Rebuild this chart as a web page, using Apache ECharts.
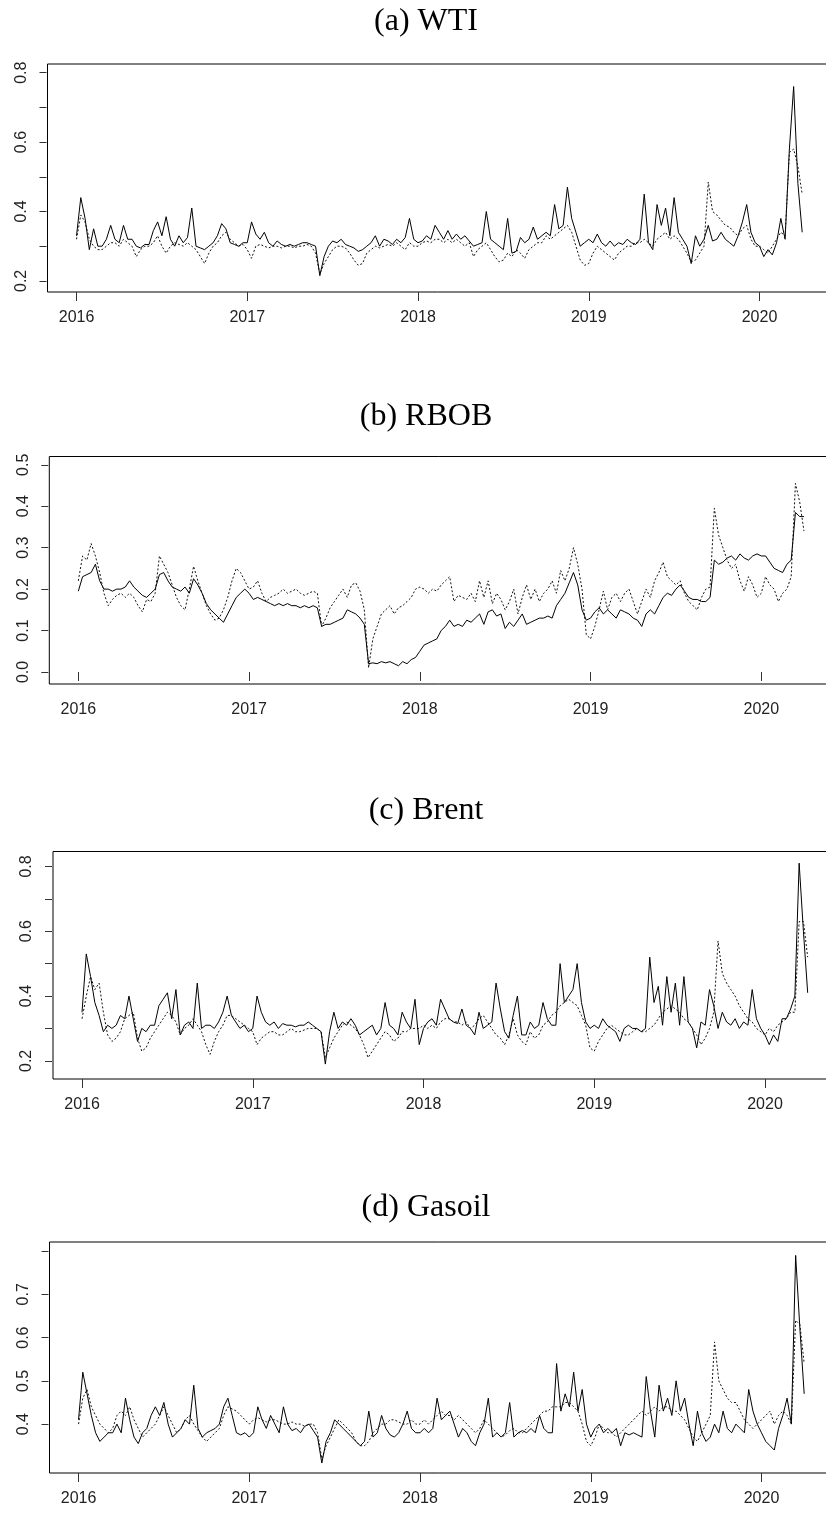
<!DOCTYPE html>
<html>
<head>
<meta charset="utf-8">
<title>Volatility panels</title>
<script src="https://cdn.jsdelivr.net/npm/echarts@6/dist/echarts.min.js"></script>
<style>
  html, body { margin: 0; padding: 0; background: #fff; }
  #chart { width: 826px; height: 1513px; }
</style>
</head>
<body>
<div id="chart"></div>
<script>
// series are sampled every 0.025 year starting at 2016.0
const startYear = 2016
const step = 0.025

const yearTicks = [2016, 2017, 2018, 2019, 2020]

// (a) WTI
const wtiSolid = [
  0.33,0.44,0.38,0.29,0.35,0.30,0.30,0.32,0.36,0.32, 0.31,0.36,0.32,0.32,0.30,0.295,0.305,0.305,0.345,0.37,
  0.33,0.385,0.32,0.30,0.33,0.31,0.325,0.41,0.30,0.295, 0.29,0.30,0.31,0.33,0.365,0.35,0.31,0.305,0.30,0.31,
  0.31,0.37,0.335,0.32,0.34,0.31,0.30,0.315,0.305,0.30, 0.305,0.30,0.305,0.31,0.31,0.305,0.30,0.215,0.27,0.30,
  0.315,0.31,0.32,0.305,0.30,0.295,0.285,0.29,0.30,0.31, 0.33,0.30,0.32,0.315,0.305,0.32,0.31,0.325,0.38,0.32,
  0.31,0.315,0.33,0.32,0.36,0.34,0.32,0.345,0.32,0.335, 0.32,0.33,0.315,0.30,0.305,0.31,0.40,0.32,0.31,0.30,
  0.29,0.38,0.28,0.285,0.325,0.31,0.32,0.355,0.32,0.33, 0.34,0.33,0.42,0.35,0.36,0.47,0.38,0.34,0.30,0.31,
  0.32,0.31,0.335,0.31,0.30,0.315,0.30,0.31,0.305,0.32, 0.31,0.305,0.32,0.45,0.31,0.29,0.42,0.36,0.41,0.33,
  0.44,0.34,0.32,0.30,0.25,0.33,0.30,0.32,0.36,0.315, 0.32,0.34,0.32,0.31,0.30,0.33,0.37,0.42,0.34,0.31,
  0.30,0.27,0.29,0.275,0.31,0.38,0.32,0.58,0.76,0.48,0.34
]
const wtiDotted = [
  0.32,0.39,0.37,0.32,0.30,0.29,0.29,0.30,0.31,0.31, 0.30,0.32,0.31,0.30,0.27,0.29,0.30,0.30,0.31,0.33,
  0.30,0.28,0.30,0.31,0.305,0.30,0.31,0.30,0.29,0.27, 0.25,0.28,0.30,0.31,0.33,0.34,0.32,0.31,0.30,0.305,
  0.29,0.265,0.30,0.305,0.30,0.295,0.30,0.30,0.295,0.30, 0.30,0.295,0.30,0.30,0.305,0.30,0.28,0.22,0.25,0.27,
  0.29,0.30,0.30,0.295,0.28,0.26,0.245,0.25,0.28,0.29, 0.30,0.295,0.30,0.305,0.30,0.31,0.30,0.29,0.31,0.30,
  0.30,0.31,0.315,0.31,0.32,0.32,0.31,0.32,0.31,0.32, 0.31,0.30,0.31,0.27,0.29,0.30,0.31,0.29,0.27,0.255,
  0.26,0.28,0.27,0.29,0.28,0.265,0.29,0.30,0.31,0.31, 0.33,0.32,0.33,0.34,0.35,0.36,0.34,0.30,0.26,0.245,
  0.25,0.28,0.30,0.29,0.28,0.27,0.26,0.28,0.29,0.30, 0.30,0.31,0.31,0.32,0.31,0.30,0.32,0.33,0.34,0.32,
  0.33,0.32,0.30,0.28,0.255,0.26,0.28,0.30,0.485,0.40, 0.39,0.375,0.36,0.355,0.34,0.33,0.35,0.36,0.32,0.30,
  0.30,0.29,0.28,0.30,0.32,0.34,0.33,0.57,0.58,0.53,0.45
]

// (b) RBOB
const rbobSolid = [
  0.195,0.23,0.235,0.24,0.26,0.22,0.20,0.20,0.195,0.20, 0.20,0.205,0.22,0.205,0.195,0.185,0.18,0.19,0.20,0.235,
  0.24,0.22,0.205,0.20,0.195,0.205,0.19,0.225,0.21,0.19, 0.165,0.15,0.14,0.13,0.12,0.14,0.16,0.18,0.19,0.20,
  0.19,0.175,0.18,0.175,0.17,0.165,0.16,0.165,0.16,0.165, 0.16,0.16,0.155,0.16,0.155,0.16,0.155,0.11,0.115,0.115,
  0.12,0.125,0.13,0.15,0.145,0.14,0.13,0.115,0.02,0.022, 0.02,0.025,0.022,0.025,0.02,0.015,0.025,0.02,0.03,0.035,
  0.05,0.065,0.07,0.075,0.08,0.10,0.11,0.125,0.11,0.115, 0.11,0.125,0.12,0.13,0.14,0.115,0.145,0.15,0.135,0.14,
  0.105,0.12,0.11,0.125,0.14,0.115,0.12,0.125,0.13,0.13, 0.135,0.13,0.16,0.175,0.19,0.215,0.24,0.21,0.15,0.125,
  0.13,0.145,0.155,0.14,0.15,0.14,0.13,0.15,0.145,0.14, 0.13,0.125,0.11,0.14,0.15,0.14,0.16,0.18,0.19,0.185,
  0.20,0.21,0.195,0.18,0.175,0.175,0.17,0.17,0.18,0.27, 0.26,0.265,0.275,0.28,0.27,0.285,0.275,0.27,0.28,0.285,
  0.28,0.28,0.265,0.25,0.245,0.24,0.26,0.27,0.385,0.375,0.375
]
const rbobDotted = [
  0.22,0.28,0.27,0.31,0.28,0.24,0.19,0.16,0.175,0.185, 0.19,0.18,0.19,0.18,0.16,0.145,0.175,0.17,0.19,0.28,
  0.26,0.24,0.21,0.18,0.16,0.15,0.20,0.255,0.22,0.19, 0.16,0.14,0.125,0.13,0.15,0.18,0.22,0.25,0.24,0.22,
  0.20,0.205,0.22,0.19,0.17,0.18,0.185,0.19,0.20,0.19, 0.195,0.20,0.19,0.185,0.19,0.195,0.19,0.11,0.13,0.155,
  0.17,0.185,0.20,0.18,0.21,0.215,0.195,0.15,0.01,0.08, 0.11,0.14,0.15,0.16,0.14,0.155,0.16,0.17,0.18,0.20,
  0.205,0.20,0.19,0.20,0.195,0.21,0.22,0.23,0.17,0.185, 0.18,0.175,0.19,0.17,0.22,0.18,0.22,0.165,0.19,0.175,
  0.15,0.17,0.20,0.14,0.18,0.21,0.175,0.20,0.17,0.19, 0.20,0.22,0.19,0.245,0.22,0.25,0.30,0.26,0.20,0.09,
  0.08,0.11,0.15,0.195,0.15,0.18,0.19,0.17,0.19,0.20, 0.17,0.14,0.17,0.20,0.18,0.22,0.24,0.265,0.23,0.22,
  0.21,0.22,0.19,0.17,0.16,0.15,0.18,0.20,0.205,0.395, 0.33,0.30,0.27,0.25,0.26,0.22,0.195,0.23,0.21,0.18,
  0.19,0.23,0.21,0.20,0.17,0.19,0.20,0.23,0.455,0.41,0.34
]

// (c) Brent
const brentSolid = [
  0.35,0.53,0.46,0.38,0.34,0.29,0.31,0.30,0.31,0.34, 0.33,0.40,0.33,0.26,0.30,0.29,0.31,0.31,0.37,0.39,
  0.41,0.33,0.42,0.28,0.31,0.32,0.30,0.44,0.30,0.31, 0.31,0.30,0.32,0.35,0.40,0.34,0.32,0.30,0.31,0.29,
  0.30,0.40,0.35,0.32,0.31,0.32,0.30,0.315,0.31,0.31, 0.305,0.31,0.31,0.32,0.31,0.30,0.29,0.19,0.29,0.35,
  0.30,0.32,0.31,0.33,0.31,0.28,0.29,0.30,0.31,0.28, 0.30,0.38,0.31,0.30,0.28,0.35,0.32,0.30,0.39,0.25,
  0.30,0.32,0.33,0.31,0.39,0.36,0.33,0.32,0.315,0.36, 0.31,0.30,0.28,0.35,0.30,0.31,0.32,0.44,0.36,0.29,
  0.27,0.34,0.40,0.28,0.28,0.32,0.30,0.31,0.38,0.33, 0.31,0.31,0.50,0.38,0.40,0.42,0.50,0.38,0.32,0.30,
  0.31,0.30,0.33,0.31,0.30,0.29,0.26,0.30,0.31,0.30, 0.30,0.29,0.30,0.52,0.38,0.43,0.31,0.46,0.35,0.44,
  0.31,0.46,0.32,0.30,0.24,0.32,0.31,0.42,0.37,0.30, 0.35,0.32,0.31,0.33,0.30,0.32,0.31,0.42,0.33,0.30,
  0.28,0.25,0.28,0.26,0.33,0.33,0.36,0.40,0.81,0.60,0.41
]
const brentDotted = [
  0.33,0.40,0.46,0.42,0.44,0.35,0.28,0.26,0.27,0.29, 0.33,0.34,0.35,0.27,0.23,0.24,0.27,0.29,0.31,0.33,
  0.35,0.34,0.32,0.28,0.30,0.31,0.33,0.31,0.29,0.25, 0.22,0.26,0.29,0.31,0.34,0.34,0.33,0.32,0.31,0.30,
  0.29,0.25,0.27,0.28,0.29,0.29,0.28,0.28,0.29,0.30, 0.29,0.29,0.295,0.30,0.30,0.30,0.29,0.21,0.24,0.27,
  0.29,0.31,0.32,0.31,0.30,0.28,0.25,0.21,0.23,0.25, 0.27,0.29,0.28,0.26,0.27,0.29,0.29,0.30,0.30,0.30,
  0.31,0.30,0.31,0.30,0.32,0.33,0.33,0.32,0.32,0.31, 0.32,0.30,0.31,0.33,0.34,0.32,0.30,0.28,0.27,0.25,
  0.28,0.33,0.28,0.26,0.25,0.29,0.27,0.28,0.31,0.32, 0.34,0.35,0.37,0.38,0.39,0.38,0.37,0.34,0.31,0.24,
  0.23,0.26,0.28,0.30,0.31,0.30,0.29,0.28,0.28,0.29, 0.30,0.29,0.29,0.30,0.31,0.33,0.35,0.36,0.37,0.36,
  0.35,0.33,0.32,0.30,0.28,0.25,0.27,0.30,0.35,0.57, 0.47,0.44,0.42,0.40,0.37,0.35,0.33,0.32,0.30,0.29,
  0.28,0.30,0.29,0.31,0.32,0.33,0.35,0.35,0.63,0.63,0.52
]

// (d) Gasoil
const gasoilSolid = [
  0.41,0.52,0.47,0.42,0.38,0.36,0.37,0.38,0.38,0.40, 0.38,0.46,0.41,0.37,0.355,0.38,0.39,0.42,0.44,0.42,
  0.45,0.40,0.37,0.38,0.39,0.41,0.40,0.49,0.39,0.37, 0.38,0.385,0.39,0.40,0.44,0.46,0.42,0.38,0.375,0.38,
  0.37,0.38,0.44,0.41,0.39,0.42,0.40,0.38,0.44,0.40, 0.385,0.39,0.38,0.395,0.40,0.385,0.37,0.31,0.36,0.38,
  0.41,0.40,0.39,0.38,0.37,0.36,0.35,0.36,0.43,0.37, 0.38,0.42,0.39,0.375,0.37,0.38,0.40,0.43,0.39,0.38,
  0.38,0.39,0.38,0.39,0.46,0.41,0.42,0.43,0.40,0.37, 0.39,0.38,0.36,0.35,0.38,0.40,0.46,0.37,0.38,0.37,
  0.38,0.45,0.37,0.38,0.385,0.38,0.39,0.38,0.42,0.39, 0.38,0.38,0.54,0.43,0.47,0.44,0.52,0.43,0.48,0.40,
  0.37,0.39,0.40,0.38,0.39,0.38,0.39,0.35,0.38,0.375, 0.38,0.375,0.37,0.51,0.43,0.37,0.49,0.43,0.46,0.42,
  0.50,0.43,0.46,0.40,0.35,0.43,0.38,0.36,0.37,0.40, 0.38,0.43,0.39,0.38,0.40,0.39,0.38,0.48,0.43,0.40,
  0.38,0.36,0.35,0.34,0.39,0.42,0.46,0.40,0.79,0.62,0.47
]
const gasoilDotted = [
  0.40,0.46,0.48,0.44,0.42,0.40,0.39,0.38,0.39,0.42, 0.43,0.42,0.44,0.41,0.39,0.37,0.38,0.39,0.40,0.42,
  0.44,0.42,0.40,0.38,0.39,0.41,0.42,0.40,0.385,0.37, 0.36,0.37,0.38,0.39,0.42,0.44,0.435,0.43,0.42,0.41,
  0.40,0.41,0.415,0.41,0.405,0.41,0.41,0.405,0.40,0.40, 0.405,0.40,0.40,0.395,0.40,0.40,0.38,0.32,0.35,0.37,
  0.39,0.41,0.40,0.39,0.38,0.36,0.35,0.35,0.36,0.38, 0.39,0.40,0.40,0.41,0.41,0.405,0.40,0.40,0.41,0.40,
  0.40,0.41,0.40,0.41,0.42,0.43,0.42,0.42,0.41,0.42, 0.41,0.40,0.39,0.38,0.39,0.41,0.40,0.39,0.38,0.37,
  0.375,0.385,0.39,0.38,0.38,0.39,0.40,0.41,0.42,0.43, 0.43,0.44,0.44,0.44,0.45,0.45,0.44,0.43,0.40,0.36,
  0.35,0.37,0.40,0.39,0.38,0.38,0.37,0.38,0.39,0.40, 0.41,0.42,0.43,0.42,0.43,0.44,0.43,0.44,0.44,0.43,
  0.43,0.42,0.41,0.39,0.37,0.36,0.38,0.40,0.42,0.59, 0.50,0.48,0.46,0.45,0.45,0.43,0.41,0.40,0.39,0.40,
  0.41,0.42,0.43,0.40,0.42,0.43,0.42,0.40,0.64,0.63,0.54
]

// y ticks / labels per panel
const wtiTicks = [0.2, 0.3, 0.4, 0.5, 0.6, 0.7, 0.8]
const wtiLabels = [0.2, 0.4, 0.6, 0.8]
const rbobTicks = [0.0, 0.1, 0.2, 0.3, 0.4, 0.5]
const rbobLabels = [0.0, 0.1, 0.2, 0.3, 0.4, 0.5]
const brentTicks = [0.2, 0.3, 0.4, 0.5, 0.6, 0.7, 0.8]
const brentLabels = [0.2, 0.4, 0.6, 0.8]
const gasoilTicks = [0.4, 0.5, 0.6, 0.7, 0.8]
const gasoilLabels = [0.4, 0.5, 0.6, 0.7]

const panels = [
  { title: '(a) WTI', solid: wtiSolid, dotted: wtiDotted, ticks: wtiTicks, labels: wtiLabels,
    yMin: 0.168, yMax: 0.825, left: 47.5, top: 64, height: 228, titleY: 22 },
  { title: '(b) RBOB', solid: rbobSolid, dotted: rbobDotted, ticks: rbobTicks, labels: rbobLabels,
    yMin: -0.029, yMax: 0.52, left: 49.3, top: 456.5, height: 227.5, titleY: 417 },
  { title: '(c) Brent', solid: brentSolid, dotted: brentDotted, ticks: brentTicks, labels: brentLabels,
    yMin: 0.144, yMax: 0.846, left: 53, top: 851.5, height: 227.5, titleY: 811 },
  { title: '(d) Gasoil', solid: gasoilSolid, dotted: gasoilDotted, ticks: gasoilTicks, labels: gasoilLabels,
    yMin: 0.287, yMax: 0.821, left: 49.5, top: 1242, height: 231, titleY: 1208 }
]

const xMin = 2015.83
const xMax = 2020.41
const sansFont = 'Liberation Sans, Arial, sans-serif'

const toPoints = vals => vals.map((v, i) => [startYear + i * step, v])

const chart = echarts.init(document.getElementById('chart'))

const option = {
  animation: false,
  backgroundColor: '#fff',
  grid: panels.map(p => ({
    left: p.left,
    top: p.top,
    width: 782,
    height: p.height,
    show: true,
    borderColor: '#000',
    borderWidth: 1,
    backgroundColor: 'transparent',
    containLabel: false,
    outerBoundsMode: 'none'
  })),
  xAxis: panels.map((p, k) => ({
    type: 'value',
    gridIndex: k,
    min: xMin,
    max: xMax,
    axisLine: { show: false },
    splitLine: { show: false },
    axisTick: {
      show: true,
      customValues: yearTicks,
      length: 9,
      lineStyle: { color: '#333', width: 1 }
    },
    axisLabel: {
      show: true,
      customValues: yearTicks,
      formatter: v => String(Math.round(v)),
      fontFamily: sansFont,
      fontSize: 16,
      color: '#222',
      margin: 18
    }
  })),
  yAxis: panels.map((p, k) => ({
    type: 'value',
    gridIndex: k,
    min: p.yMin,
    max: p.yMax,
    offset: 1,
    axisLine: { show: false },
    splitLine: { show: false },
    axisTick: {
      show: true,
      customValues: p.ticks,
      length: 7,
      lineStyle: { color: '#333', width: 1 }
    },
    axisLabel: {
      show: true,
      customValues: p.labels,
      rotate: 90,
      formatter: v => v.toFixed(1),
      fontFamily: sansFont,
      fontSize: 16,
      color: '#222',
      margin: 17
    }
  })),
  graphic: panels.map(p => ({
    type: 'text',
    x: 426,
    y: p.titleY,
    silent: true,
    style: {
      text: p.title,
      fontFamily: 'Liberation Serif, Times New Roman, serif',
      fontSize: 32,
      fill: '#000',
      align: 'center',
      verticalAlign: 'middle'
    }
  })),
  series: panels.flatMap((p, k) => [
    {
      type: 'line',
      name: p.title + ' solid',
      xAxisIndex: k,
      yAxisIndex: k,
      data: toPoints(p.solid),
      showSymbol: false,
      symbol: 'none',
      silent: true,
      lineStyle: { color: '#000', width: 1, type: 'solid' }
    },
    {
      type: 'line',
      name: p.title + ' dotted',
      xAxisIndex: k,
      yAxisIndex: k,
      data: toPoints(p.dotted),
      showSymbol: false,
      symbol: 'none',
      silent: true,
      lineStyle: { color: '#111', width: 1, type: [2, 2] }
    }
  ])
}

chart.setOption(option)
</script>
</body>
</html>
